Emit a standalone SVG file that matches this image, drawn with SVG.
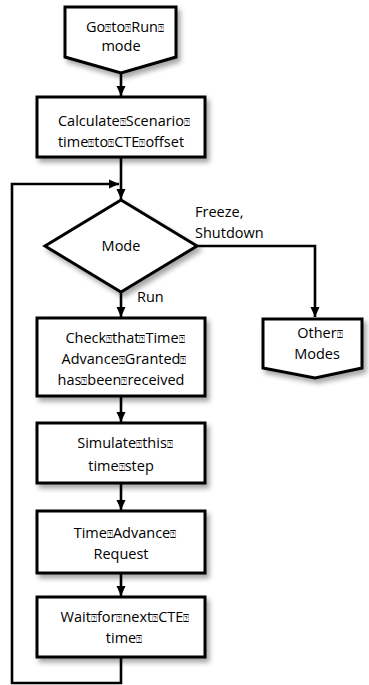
<svg xmlns="http://www.w3.org/2000/svg" width="369" height="685" viewBox="0 0 369 685">
<style>
.shape{fill:#fff;stroke:#000;stroke-width:3;stroke-linejoin:miter;filter:url(#sh)}
.t{font-family:"Open Sans","Liberation Sans",sans-serif;font-size:14.5px;fill:#000;text-anchor:middle}
.l{text-anchor:start}
.q{font-family:"DejaVu Sans",sans-serif;font-size:10px}
.c{fill:none;stroke:#000;stroke-width:2.6}
</style>
<defs>
<filter id="sh" x="-20%" y="-20%" width="150%" height="150%">
<feDropShadow dx="3" dy="4" stdDeviation="2.5" flood-color="#000" flood-opacity="0.35"/>
</filter>
<marker id="ah" markerUnits="userSpaceOnUse" markerWidth="10" markerHeight="10" viewBox="0 0 10 10" refX="10" refY="5" orient="auto">
<path d="M0,0.5 L10,5 L0,9.5 Z" fill="#000"/>
</marker>
</defs>
<g id="connectors">
<path class="c" d="M121,73 V96" marker-end="url(#ah)"/>
<path class="c" d="M121,157 V199" marker-end="url(#ah)"/>
<path class="c" d="M121,657 V683 H12 V184 H119" marker-end="url(#ah)"/>
<path class="c" d="M197,246 H315 V317" marker-end="url(#ah)"/>
<path class="c" d="M121,292 V317" marker-end="url(#ah)"/>
<path class="c" d="M121,396 V422" marker-end="url(#ah)"/>
<path class="c" d="M121,483 V510" marker-end="url(#ah)"/>
<path class="c" d="M121,573 V596" marker-end="url(#ah)"/>
</g>
<g id="go-to-run">
<path class="shape" d="M65,7 H176 V57 L121,73 L65,57 Z"/>
<text class="t" x="125" y="32">Go<tspan class="q">⍰</tspan>to<tspan class="q">⍰</tspan>Run<tspan class="q">⍰</tspan></text>
<text class="t" x="121" y="51">mode</text>
</g>
<g id="calculate">
<rect class="shape" x="37" y="97" width="168" height="60"/>
<text class="t" x="124" y="126">Calculate<tspan class="q">⍰</tspan>Scenario<tspan class="q">⍰</tspan></text>
<text class="t" x="121" y="147">time<tspan class="q">⍰</tspan>to<tspan class="q">⍰</tspan>CTE<tspan class="q">⍰</tspan>offset</text>
</g>
<g id="mode">
<path class="shape" d="M121,200 L197,246 L121,292 L45,246 Z"/>
<text class="t" x="121" y="251">Mode</text>
<text class="t l" x="195" y="217">Freeze,</text>
<text class="t l" x="195" y="238">Shutdown</text>
<text class="t l" x="137" y="302">Run</text>
</g>
<g id="other-modes">
<path class="shape" d="M263,319 H362 V368 L315,378 L263,368 Z"/>
<text class="t" x="320" y="338">Other<tspan class="q">⍰</tspan></text>
<text class="t" x="317" y="359">Modes</text>
</g>
<g id="check">
<rect class="shape" x="37" y="318" width="168" height="78"/>
<text class="t" x="125" y="343">Check<tspan class="q">⍰</tspan>that<tspan class="q">⍰</tspan>Time<tspan class="q">⍰</tspan></text>
<text class="t" x="124" y="364">Advance<tspan class="q">⍰</tspan>Granted<tspan class="q">⍰</tspan></text>
<text class="t" x="121" y="385">has<tspan class="q">⍰</tspan>been<tspan class="q">⍰</tspan>received</text>
</g>
<g id="simulate">
<rect class="shape" x="37" y="423" width="168" height="60"/>
<text class="t" x="125" y="448">Simulate<tspan class="q">⍰</tspan>this<tspan class="q">⍰</tspan></text>
<text class="t" x="121" y="471">time<tspan class="q">⍰</tspan>step</text>
</g>
<g id="time-advance">
<rect class="shape" x="37" y="511" width="168" height="62"/>
<text class="t" x="125" y="538">Time<tspan class="q">⍰</tspan>Advance<tspan class="q">⍰</tspan></text>
<text class="t" x="121" y="559">Request</text>
</g>
<g id="wait">
<rect class="shape" x="37" y="597" width="168" height="60"/>
<text class="t" x="125" y="622">Wait<tspan class="q">⍰</tspan>for<tspan class="q">⍰</tspan>next<tspan class="q">⍰</tspan>CTE<tspan class="q">⍰</tspan></text>
<text class="t" x="124" y="643">time<tspan class="q">⍰</tspan></text>
</g>
</svg>
